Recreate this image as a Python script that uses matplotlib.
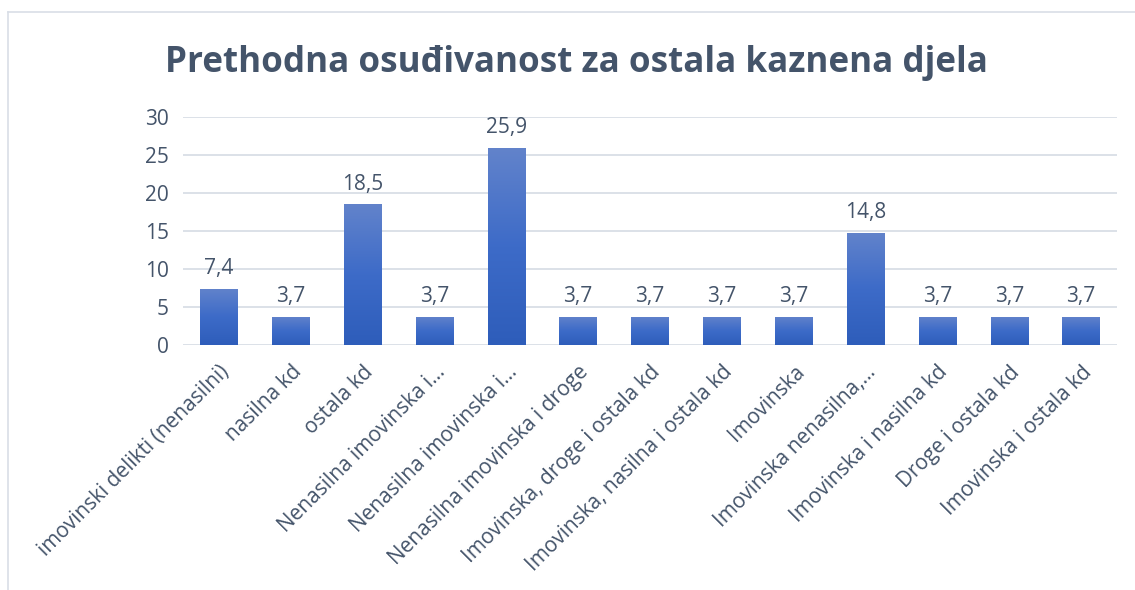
import numpy as np
import matplotlib
matplotlib.use('Agg')
import matplotlib.pyplot as plt
from matplotlib.colors import LinearSegmentedColormap
from matplotlib.lines import Line2D

categories = [
    "imovinski delikti (nenasilni)", "nasilna kd", "ostala kd",
    "Nenasilna imovinska i…", "Nenasilna imovinska i…",
    "Nenasilna imovinska i droge", "Imovinska, droge i ostala kd",
    "Imovinska, nasilna i ostala kd", "Imovinska", "Imovinska nenasilna,…",
    "Imovinska i nasilna kd", "Droge i ostala kd", "Imovinska i ostala kd",
]
values = [7.4, 3.7, 18.5, 3.7, 25.9, 3.7, 3.7, 3.7, 3.7, 14.8, 3.7, 3.7, 3.7]
yticks = [0, 5, 10, 15, 20, 25, 30]

plt.rcParams['font.family'] = ['Open Sans', 'DejaVu Sans']
text_col = '#44546A'
grid_col = '#D9DEE6'

fig = plt.figure(figsize=(11.35, 5.9), dpi=100)
ax = fig.add_axes([183 / 1135, 1 - 345 / 590, (1117 - 183) / 1135, (345 - 117) / 590])

x = np.arange(len(categories))
bars = ax.bar(x, values, width=0.52, color='none', zorder=3)
cmap = LinearSegmentedColormap.from_list('grad', ['#2E5DBA', '#3D6BC8', '#6283CB'])
grad = np.linspace(0, 1, 256).reshape(-1, 1)
for b in bars:
    x0, w, h = b.get_x(), b.get_width(), b.get_height()
    im = ax.imshow(grad, cmap=cmap, origin='lower', aspect='auto',
                   extent=[x0, x0 + w, 0, h], zorder=3)
    im.set_clip_path(b)

for xi, v in zip(x, values):
    ax.text(xi, v + 1.3, f"{v:.1f}".replace('.', ','), ha='center', va='bottom',
            fontsize=15, color=text_col)

ax.set_xlim(-0.5, len(categories) - 0.5)
ax.set_ylim(0, 30)
ax.set_yticks(yticks)
ax.yaxis.grid(True, color=grid_col, linewidth=1.3, zorder=0)
ax.set_axisbelow(True)
for s in ax.spines.values():
    s.set_visible(False)
ax.tick_params(axis='both', length=0, labelsize=15, colors=text_col)
ax.tick_params(axis='y', pad=10)
ax.set_xticks(x)
ax.set_xticklabels(categories, rotation=45, ha='right', rotation_mode='anchor')
ax.tick_params(axis='x', pad=12)

fig.text(576 / 1135, 1 - 63 / 590, "Prethodna osuđivanost za ostala kaznena djela",
         ha='center', va='center', fontsize=25.2, fontweight='bold', color=text_col)

# chart frame
fig.add_artist(Line2D([8 / 1135, 8 / 1135], [0, 1 - 12 / 590], color=grid_col, linewidth=1.2))
fig.add_artist(Line2D([8 / 1135, 1], [1 - 12 / 590, 1 - 12 / 590], color=grid_col, linewidth=1.2))

fig.savefig('out.png', dpi=100)
